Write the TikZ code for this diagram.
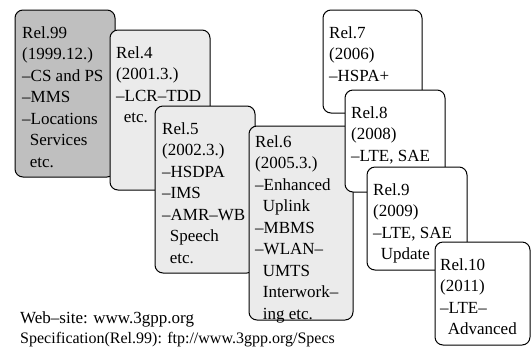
\documentclass[tikz,border=0pt]{standalone}
\usepackage{tikz}
\usepackage{fontspec}
\setmainfont{Liberation Serif}

\tikzset{
  relbox/.style={draw=black, line width=1pt, rounded corners=8pt},
  reltext/.style={anchor=north west, inner sep=0pt, align=left,
    font=\fontsize{17}{21.5}\selectfont},
  webtext/.style={anchor=base west, inner sep=0pt,
    font=\fontsize{16}{20}\selectfont}
}
\newcommand{\ind}{\hspace*{0.45em}}

\begin{document}
\begin{tikzpicture}[x=1pt,y=-1pt]
				\useasboundingbox (0,0) rectangle (532,349);
				
				\draw[relbox, fill=black!25] (15,10) rectangle (115,177);
				\node[reltext] (t99) at (22,26) {Rel.99\\(1999.12.)\\--CS and PS\\--MMS\\--Locations\\\ind Services\\\ind etc.};
				
				\draw[relbox, fill=black!8] (110,30) rectangle (210,190);
				\node[reltext] (t4) at (116,46) {Rel.4\\(2001.3.)\\--LCR--TDD\\\ind etc.};
				
				\draw[relbox, fill=black!8] (155,106) rectangle (255,273);
				\node[reltext] (t5) at (162,122) {Rel.5\\(2002.3.)\\--HSDPA\\--IMS\\--AMR--WB\\\ind Speech\\\ind etc.};
				
				\draw[relbox, fill=black!8] (249,126) rectangle (353,320);
				\node[reltext] (t6) at (255,135) {Rel.6\\(2005.3.)\\--Enhanced\\\ind Uplink\\--MBMS\\--WLAN--\\\ind UMTS\\\ind Interwork--\\\ind ing etc.};
				
				\draw[relbox, fill=white] (323,10) rectangle (422,113);
				\node[reltext] (t7) at (329,26) {Rel.7\\(2006)\\--HSPA+};
				
				\draw[relbox, fill=white] (345,90) rectangle (445,192);
				\node[reltext] (t8) at (351,106) {Rel.8\\(2008)\\--LTE, SAE};
				
				\draw[relbox, fill=white] (367,167) rectangle (467,270);
				\node[reltext] (t9) at (373,183) {Rel.9\\(2009)\\--LTE, SAE\\\ind Update};
				
				\draw[relbox, fill=white] (435,242) rectangle (530,345);
				\node[reltext] (t10) at (440,258) {Rel.10\\(2011)\\--LTE--\\\ind Advanced};
				
				\node[webtext, font=\fontsize{17}{20}\selectfont] (web) at (20,323) {Web--site: www.3gpp.org};
				\node[webtext] (spec) at (20,343) {Specification(Rel.99): ftp://www.3gpp.org/Specs};
\end{tikzpicture}
\end{document}
